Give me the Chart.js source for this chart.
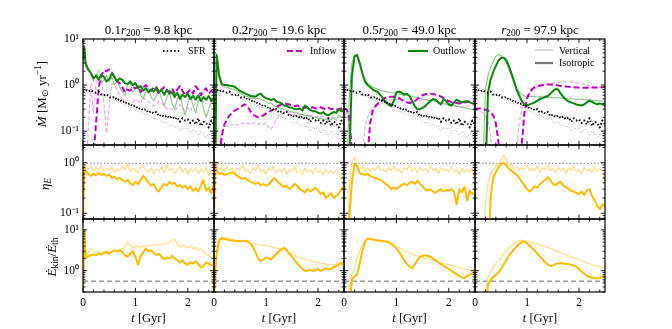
<!DOCTYPE html>
<html><head><meta charset="utf-8">
<script src="https://cdn.jsdelivr.net/npm/chart.js@4.4.1/dist/chart.umd.min.js"></script>
<style>
html,body{margin:0;padding:0;background:#fff;}
#wrap{position:relative;width:672px;height:329px;overflow:hidden;background:#fff;font-family:'Liberation Serif',serif;color:#000;}
#wrap canvas{position:absolute;left:0;top:0;}
.lbl{position:absolute;transform:translate(-50%,-50%);white-space:nowrap;z-index:5;line-height:1;}
.rot{transform:translate(-50%,-50%) rotate(-90deg);}
sub{font-size:0.72em;vertical-align:-0.3em;line-height:0;}
sup{font-size:0.72em;vertical-align:0.45em;line-height:0;}
.leg{position:absolute;font-size:10px;white-space:nowrap;z-index:5;line-height:1;transform:translateY(-50%);}
.legs{position:absolute;z-index:5;}
</style></head>
<body>
<div id="wrap">
  <div class="lbl" style="left:148.5px;top:28.5px;font-size:13px">0.1<i>r</i><sub>200</sub> = 9.8 kpc</div>
  <div class="lbl" style="left:279px;top:28.5px;font-size:13px">0.2<i>r</i><sub>200</sub> = 19.6 kpc</div>
  <div class="lbl" style="left:409.5px;top:28.5px;font-size:13px">0.5<i>r</i><sub>200</sub> = 49.0 kpc</div>
  <div class="lbl" style="left:540px;top:28.5px;font-size:13px"><i>r</i><sub>200</sub> = 97.9 kpc</div>

  <div class="lbl rot" style="left:41px;top:94px;font-size:13px"><i>Ṁ</i> [M<sub>⊙</sub> yr<sup>−1</sup>]</div>
  <div class="lbl rot" style="left:44px;top:184px;font-size:13px"><i>η<sub>E</sub></i></div>
  <div class="lbl rot" style="left:51px;top:257px;font-size:13px"><i>Ė</i><sub>kin</sub>/<i>Ė</i><sub>th</sub></div>

  <div class="lbl" style="left:148.5px;top:318px;font-size:12.5px"><i>t</i> [Gyr]</div>
  <div class="lbl" style="left:279px;top:318px;font-size:12.5px"><i>t</i> [Gyr]</div>
  <div class="lbl" style="left:409.5px;top:318px;font-size:12.5px"><i>t</i> [Gyr]</div>
  <div class="lbl" style="left:540px;top:318px;font-size:12.5px"><i>t</i> [Gyr]</div>

  <svg class="legs" style="left:162px;top:47px" width="20" height="8"><line x1="1" y1="4" x2="19" y2="4" stroke="#000" stroke-width="2" stroke-dasharray="1.5 2.2"/></svg>
  <div class="leg" style="left:188px;top:51px">SFR</div>
  <svg class="legs" style="left:286px;top:47px" width="20" height="8"><line x1="1" y1="4" x2="19" y2="4" stroke="#c000c0" stroke-width="2" stroke-dasharray="6 3"/></svg>
  <div class="leg" style="left:310px;top:51px">Inflow</div>
  <svg class="legs" style="left:407px;top:47px" width="22" height="8"><line x1="1" y1="4" x2="21" y2="4" stroke="#0b850b" stroke-width="2"/></svg>
  <div class="leg" style="left:433px;top:51px">Outflow</div>
  <svg class="legs" style="left:534px;top:46px" width="20" height="8"><line x1="1" y1="4" x2="19" y2="4" stroke="#c4c4c4" stroke-width="1.3"/></svg>
  <div class="leg" style="left:559px;top:50.5px">Vertical</div>
  <svg class="legs" style="left:534px;top:58.5px" width="20" height="8"><line x1="1" y1="4" x2="19" y2="4" stroke="#7a7a7a" stroke-width="2.2"/></svg>
  <div class="leg" style="left:559px;top:63px">Isotropic</div>
</div>
<script>
// ---------- data ----------
const T = [0,0.025,0.05,0.1,0.15,0.2,0.25,0.3,0.35,0.4,0.45,0.5,0.55,0.6,0.65,0.7,0.75,0.8,0.85,0.9,0.95,1,1.05,1.1,1.15,1.2,1.25,1.3,1.35,1.4,1.45,1.5,1.55,1.6,1.65,1.7,1.75,1.8,1.85,1.9,1.95,2,2.05,2.1,2.15,2.2,2.25,2.3,2.35,2.4,2.45,2.5];
const T_REF = [0, 2.5];
const X_TICKS = [0, 1, 2];
const X_MINOR = [0.2,0.4,0.6,0.8,1.2,1.4,1.6,1.8,2.2,2.4];
const TITLES = ['0.1r200 = 9.8 kpc','0.2r200 = 19.6 kpc','0.5r200 = 49.0 kpc','r200 = 97.9 kpc'];
const LEGEND = ['SFR','Inflow','Outflow','Vertical','Isotropic'];

// star formation rate (same in every column)
const SFR_ISO = [0.75,0.8,0.8, 0.72,0.78,0.7,0.68,0.72,0.62,0.6,0.64,0.55,0.52,0.56,0.47,0.5,0.42,0.45,0.38,0.4,0.34,0.36, 0.3,0.32,0.28,0.3,0.25,0.27,0.24,0.26,0.21,0.23, 0.2,0.22,0.19,0.21,0.18,0.2,0.16,0.19,0.17,0.18, 0.15,0.17,0.14,0.19,0.13,0.16,0.15,0.12,0.17,0.14];
const SFR_VER = [0.8,0.85,0.85, 0.75,0.8,0.72,0.7,0.66,0.6,0.62,0.55,0.52,0.5,0.45,0.46,0.4,0.41,0.36,0.35,0.32,0.33,0.28, 0.27,0.26,0.24,0.22,0.23,0.2,0.19,0.18,0.19,0.16, 0.15,0.16,0.13,0.14,0.12,0.13,0.1,0.12,0.11,0.12, 0.09,0.11,0.1,0.08,0.1,0.09,0.07,0.09,0.08,0.07];

// outflow / inflow rates, isotropic (ISO) and vertical (VER)
const OUT_ISO_1 = [3.5,6.5,3.0, 2.2,1.8,1.4,1.6,1.3,1.7,1.5,1.2,1.35,1.8,1.5,1.2,1.4,1.3,1.1,1.05,1.2,1.0,1.1, 0.85,0.95,0.75,0.85,0.7,0.8,0.72,0.9,0.7,0.78, 0.62,0.8,0.65,0.7,0.55,0.68,0.5,0.62,0.55,0.65, 0.5,0.58,0.48,0.6,0.45,0.55,0.48,0.58,0.45,0.5];
const OUT_VER_1 = [3.0,5.5,2.5, 2.0,1.9,1.2,1.7,1.5,1.1,1.3,1.6,1.2,1.5,1.0,1.3,0.9,0.75,0.6,1.0,1.1,0.7,0.85, 0.95,0.6,0.5,0.75,0.85,0.55,0.45,0.6,0.8,0.5, 0.35,0.55,0.7,0.4,0.3,0.5,0.65,0.35,0.22,0.4, 0.6,0.35,0.25,0.45,0.55,0.3,0.2,0.3,0.45,0.4];
const IN_ISO_1 = [0.01,0.01,0.01, 0.01,0.01,0.03,0.15,0.9,1.6,2.1,2.0,2.2,1.9,1.5,1.2,1.1,0.9,0.7,0.8,0.75,0.9,0.85, 0.95,0.7,0.9,1.0,0.85,0.75,0.9,0.8,0.65,0.8, 0.9,0.75,0.7,0.85,0.65,0.8,0.95,0.75,0.6,0.7, 0.8,0.65,0.95,0.8,0.6,0.75,0.85,0.65,0.75,0.7];
const IN_VER_1 = [0.01,0.01,0.01, 0.1,1.1,0.25,1.2,2.1,1.4,0.4,0.09,0.35,1.1,1.0,0.8,0.6,0.5,0.45,0.38,0.35,0.42,0.5, 0.45,0.4,0.55,0.48,0.42,0.4,0.35,0.38,0.45,0.4, 0.35,0.3,0.32,0.3,0.28,0.32,0.38,0.3,0.28,0.32, 0.27,0.35,0.4,0.45,0.5,0.42,0.48,0.55,0.5,0.6];

const OUT_ISO_2 = [0.01,0.02,4.5, 1.6,1.05,1.0,1.0,0.97,0.95,0.92,0.82,0.75,0.7,0.65,0.62,0.58,0.57,0.56,0.62,0.65,0.56,0.52, 0.5,0.47,0.5,0.44,0.42,0.4,0.36,0.35,0.33,0.32, 0.3,0.3,0.31,0.28,0.36,0.32,0.29,0.27,0.27,0.25, 0.24,0.26,0.23,0.22,0.24,0.26,0.25,0.3,0.27,0.27];
const OUT_VER_2 = [0.01,0.02,4.0, 1.4,0.95,0.9,0.9,0.85,0.82,0.8,0.72,0.68,0.62,0.58,0.56,0.52,0.52,0.5,0.52,0.5,0.46,0.44, 0.4,0.4,0.36,0.34,0.32,0.31,0.29,0.28,0.27,0.26, 0.25,0.25,0.23,0.23,0.22,0.22,0.21,0.2,0.2,0.19, 0.19,0.18,0.18,0.17,0.18,0.2,0.17,0.22,0.2,0.21];
const IN_ISO_2 = [0.01,0.01,0.01, 0.02,0.08,0.14,0.18,0.22,0.25,0.28,0.3,0.33,0.36,0.38,0.34,0.27,0.23,0.21,0.2,0.21,0.22,0.24, 0.26,0.28,0.3,0.33,0.36,0.38,0.4,0.39,0.38,0.36, 0.35,0.36,0.34,0.33,0.32,0.33,0.32,0.33,0.31,0.32, 0.33,0.31,0.3,0.32,0.3,0.31,0.29,0.3,0.31,0.3];
const IN_VER_2 = [0.01,0.01,0.01, 0.04,0.1,0.12,0.13,0.13,0.14,0.13,0.14,0.14,0.15,0.14,0.15,0.14,0.15,0.15,0.14,0.15,0.14,0.15, 0.12,0.11,0.14,0.18,0.21,0.23,0.25,0.26,0.25,0.24, 0.23,0.24,0.22,0.23,0.22,0.21,0.22,0.21,0.2,0.21, 0.2,0.21,0.2,0.19,0.2,0.2,0.19,0.2,0.21,0.2];

const OUT_ISO_3 = [0.01,0.01,0.01, 0.02,1.5,4.2,4.5,3.0,1.8,1.2,1.0,0.9,0.8,0.75,0.7,0.6,0.5,0.42,0.38,0.35,0.45,0.7, 0.72,0.68,0.62,0.65,0.58,0.45,0.35,0.3,0.3,0.32, 0.35,0.4,0.45,0.5,0.48,0.42,0.38,0.5,0.45,0.38, 0.36,0.42,0.48,0.45,0.42,0.44,0.45,0.42,0.4,0.38];
const OUT_VER_3 = [0.01,0.01,0.01, 0.5,3.0,4.3,4.0,2.7,1.7,1.3,1.1,1.0,0.9,0.85,0.8,0.76,0.74,0.72,0.7,0.68,0.67,0.65, 0.64,0.62,0.6,0.6,0.58,0.56,0.55,0.53,0.52,0.5, 0.49,0.47,0.46,0.45,0.44,0.43,0.42,0.41,0.39,0.38, 0.37,0.36,0.35,0.34,0.33,0.32,0.31,0.3,0.29,0.28];
const IN_ISO_3 = [0.3,0.3,0.3, 0.2,0.04,0.01,0.01,0.01,0.01,0.01,0.03,0.15,0.28,0.35,0.4,0.45,0.5,0.53,0.55,0.56,0.56,0.55, 0.52,0.48,0.45,0.42,0.41,0.42,0.45,0.5,0.55,0.6, 0.63,0.65,0.65,0.64,0.62,0.6,0.56,0.52,0.48,0.45, 0.43,0.42,0.41,0.4,0.41,0.42,0.43,0.44,0.44,0.45];
const IN_VER_3 = [0.25,0.25,0.25, 0.15,0.02,0.01,0.01,0.01,0.03,0.12,0.2,0.26,0.3,0.33,0.36,0.39,0.42,0.45,0.47,0.48,0.49,0.49, 0.48,0.47,0.46,0.45,0.44,0.44,0.45,0.46,0.47,0.48, 0.49,0.49,0.48,0.47,0.45,0.43,0.41,0.39,0.37,0.36, 0.35,0.35,0.34,0.34,0.34,0.35,0.35,0.36,0.36,0.37];

const OUT_ISO_4 = [0.01,0.01,0.01, 0.01,0.01,0.01,0.7,1.3,1.9,2.6,3.4,3.9,3.9,3.5,2.6,1.8,1.2,0.8,0.6,0.45,0.38,0.36, 0.38,0.4,0.42,0.46,0.5,0.52,0.55,0.58,0.65,0.75, 0.82,0.8,0.65,0.55,0.48,0.44,0.42,0.4,0.38,0.37, 0.36,0.38,0.42,0.46,0.43,0.4,0.38,0.4,0.38,0.36];
const OUT_VER_4 = [0.01,0.01,0.01, 0.01,0.01,0.8,1.6,2.4,3.3,4.2,4.6,4.4,3.8,3.0,2.2,1.6,1.15,0.85,0.7,0.62,0.58,0.57, 0.56,0.57,0.56,0.55,0.56,0.55,0.54,0.55,0.54,0.53, 0.54,0.53,0.52,0.52,0.51,0.5,0.51,0.5,0.49,0.5, 0.49,0.48,0.48,0.47,0.47,0.46,0.46,0.45,0.45,0.44];
const IN_ISO_4 = [0.3,0.3,0.31, 0.31,0.3,0.29,0.28,0.26,0.22,0.15,0.06,0.01,0.01,0.01,0.01,0.01,0.01,0.01,0.01,0.05,0.25,0.5, 0.7,0.82,0.9,0.95,0.98,1.0,1.02,1.03,1.03,1.02, 1.0,0.98,0.96,0.95,0.93,0.92,0.91,0.9,0.89,0.88, 0.88,0.87,0.87,0.87,0.88,0.88,0.89,0.9,0.9,0.91];
const IN_VER_4 = [0.28,0.28,0.28, 0.27,0.25,0.22,0.17,0.08,0.02,0.01,0.01,0.01,0.01,0.01,0.01,0.01,0.01,0.04,0.15,0.3,0.45,0.58, 0.68,0.76,0.82,0.87,0.92,0.96,1.0,1.04,1.07,1.1, 1.12,1.14,1.15,1.16,1.17,1.17,1.16,1.15,1.13,1.1, 1.07,1.03,1.0,0.97,0.94,0.92,0.9,0.89,0.88,0.88];

// energy loading factor eta_E
const ETA_REF = 0.97;
const ETA_ISO_1 = [0.08,0.8,0.7, 0.6,0.55,0.6,0.57,0.62,0.58,0.6,0.55,0.58,0.5,0.53,0.47,0.5,0.45,0.42,0.46,0.4,0.36,0.42, 0.38,0.45,0.55,0.48,0.4,0.35,0.38,0.3,0.27,0.33, 0.38,0.35,0.42,0.38,0.4,0.34,0.36,0.32,0.35,0.3, 0.34,0.28,0.31,0.27,0.35,0.45,0.28,0.32,0.25,0.38];
const ETA_VER_1 = [0.1,1.0,0.9, 0.75,0.85,0.7,0.8,0.72,0.85,0.68,0.78,0.7,0.82,0.65,0.75,0.7,0.85,0.72,0.95,0.68,0.8,0.7, 0.62,0.8,0.88,0.7,0.65,0.78,0.6,0.75,0.68,0.82, 0.62,0.9,0.7,0.78,0.6,0.72,0.85,0.65,0.78,0.6, 0.75,0.68,0.82,0.6,0.75,0.65,0.8,0.55,0.7,0.62];
const ETA_ISO_2 = [0.08,0.9,0.7, 0.6,0.62,0.58,0.6,0.62,0.65,0.6,0.55,0.5,0.48,0.5,0.45,0.42,0.4,0.38,0.4,0.36,0.38,0.35, 0.37,0.42,0.5,0.45,0.4,0.36,0.33,0.35,0.3,0.33, 0.38,0.35,0.3,0.28,0.26,0.3,0.27,0.29,0.32,0.28, 0.24,0.26,0.2,0.22,0.25,0.2,0.22,0.24,0.3,0.35];
const ETA_VER_2 = [0.1,1.1,0.95, 0.72,0.8,0.68,0.85,0.7,0.78,0.65,0.8,0.72,0.9,0.68,0.75,0.62,0.8,0.7,0.88,0.66,0.74,0.6, 0.78,0.7,0.85,0.62,0.74,0.66,0.8,0.6,0.72,0.68, 0.85,0.62,0.7,0.58,0.78,0.66,0.72,0.6,0.8,0.65, 0.7,0.58,0.75,0.62,0.7,0.6,0.72,0.65,0.45,0.6];
const ETA_ISO_3 = [0.01,0.01,0.01, 0.08,0.4,0.95,0.85,0.62,0.6,0.58,0.6,0.55,0.52,0.5,0.48,0.45,0.42,0.38,0.35,0.3,0.32,0.3, 0.33,0.36,0.38,0.36,0.4,0.42,0.38,0.44,0.38,0.34, 0.3,0.28,0.3,0.27,0.25,0.28,0.3,0.27,0.29,0.28, 0.3,0.27,0.15,0.3,0.26,0.33,0.18,0.28,0.24,0.26];
const ETA_VER_3 = [0.01,0.01,0.01, 0.3,1.0,1.3,0.9,0.75,0.85,0.7,0.8,0.68,0.78,0.72,0.88,0.7,0.76,0.65,0.8,0.7,0.85,0.68, 0.75,0.62,0.8,0.72,0.9,0.68,0.78,0.64,0.82,0.7, 0.76,0.65,0.85,0.7,0.78,0.62,0.8,0.7,0.75,0.66, 0.82,0.68,0.72,0.6,0.78,0.66,0.74,0.64,0.8,0.4];
const ETA_ISO_4 = [0.01,0.01,0.01, 0.01,0.01,0.01,0.01,0.2,0.5,0.65,0.8,0.95,1.0,0.9,0.75,0.7,0.62,0.58,0.5,0.42,0.36,0.3, 0.27,0.3,0.34,0.32,0.38,0.42,0.45,0.52,0.45,0.38, 0.36,0.4,0.42,0.35,0.33,0.3,0.28,0.27,0.25,0.24, 0.27,0.23,0.28,0.3,0.22,0.18,0.14,0.12,0.15,0.14];
const ETA_VER_4 = [0.01,0.01,0.01, 0.01,0.01,0.15,0.4,0.6,0.75,0.85,0.95,1.1,1.4,1.2,0.85,0.95,0.75,0.85,0.7,0.8,0.72,0.9, 0.68,0.78,0.7,0.85,0.65,0.8,0.72,0.9,0.7,0.76, 0.65,0.82,0.7,0.78,0.62,0.8,0.7,0.85,0.66,0.74, 0.6,0.8,0.7,0.76,0.64,0.82,0.68,0.75,0.7,0.4];

// kinetic to thermal energy flux ratio
const RATIO_REF = 0.55;
const R_ISO_1 = [0.35,10,2.0, 2.3,2.4,2.5,2.4,2.6,2.5,2.7,2.8,2.6,2.9,3.1,3.0,3.2,2.9,2.4,2.2,2.6,3.0,2.2, 1.4,2.3,2.8,3.5,3.0,3.2,2.7,2.4,2.6,2.2, 1.9,2.1,2.0,2.3,2.0,1.8,1.6,1.8,1.5,1.4, 1.6,1.5,1.7,1.45,1.2,1.3,1.6,1.5,1.35,1.45];
const R_VER_1 = [0.35,8.0,2.4, 2.8,3.5,3.0,2.8,3.0,2.7,2.9,3.1,2.8,3.0,3.2,2.9,3.0,3.3,3.8,5.0,4.2,3.6,3.8, 4.0,3.7,4.1,3.9,4.3,4.0,4.4,4.2,4.5,4.3, 4.8,4.6,5.0,5.5,6.0,4.5,3.8,4.2,3.9,3.6, 3.9,3.5,3.7,3.2,3.4,3.0,2.6,2.4,2.1,2.0];
const R_ISO_2 = [0.2,1.0,2.5, 5.5,6.2,6.0,5.8,5.6,5.5,5.4,5.3,5.4,5.3,5.4,5.2,4.6,3.8,2.8,2.0,1.7,1.9,2.1, 2.0,1.9,2.2,2.6,3.0,3.4,3.6,3.2,2.6,2.2, 1.8,1.5,1.3,1.1,0.98,1.0,1.05,0.98,1.02,1.1, 1.0,1.05,1.15,1.08,1.1,1.2,1.3,1.4,1.55,1.4];
const R_VER_2 = [0.2,1.2,3.0, 6.0,6.8,6.5,6.2,6.0,5.8,5.6,5.5,5.4,5.3,5.2,5.0,4.9,4.7,4.6,4.4,4.3,4.2,4.1, 4.0,3.9,3.7,3.6,3.5,3.3,3.1,2.9,2.8,2.6, 2.4,2.2,2.1,2.0,1.9,1.8,1.75,1.7,1.65,1.6, 1.55,1.5,1.45,1.42,1.4,1.38,1.45,1.6,1.5,1.3];
const R_ISO_3 = [0.01,0.01,0.01, 0.1,0.6,0.72,0.8,1.5,3.0,5.0,6.2,6.0,5.8,5.6,5.5,5.4,5.3,5.2,5.0,4.6,4.0,3.5, 2.9,2.3,1.8,1.45,1.25,1.15,1.4,1.8,2.2,2.3, 2.4,2.3,2.2,2.0,1.8,1.6,1.45,1.3,1.2,1.1, 1.0,0.9,0.82,0.75,0.68,0.65,0.75,0.8,0.85,0.95];
const R_VER_3 = [0.01,0.01,0.01, 0.4,0.8,1.2,2.0,3.0,4.2,5.5,6.0,5.9,5.8,5.7,5.6,5.4,5.3,5.1,4.9,4.6,4.3,4.0, 3.7,3.4,3.1,2.9,2.7,2.5,2.4,2.3,2.2,2.1, 2.0,1.95,1.85,1.8,1.7,1.65,1.55,1.5,1.45,1.4, 1.35,1.3,1.25,1.2,1.15,1.1,1.05,1.0,0.98,1.0];
const R_ISO_4 = [0.01,0.01,0.01, 0.01,0.01,0.1,0.45,0.6,0.7,0.78,0.9,1.1,1.4,1.8,2.3,2.8,3.3,3.9,4.5,5.0,5.2,4.7, 4.1,3.6,3.1,2.6,2.2,1.9,1.6,1.4,1.3,1.35, 1.45,1.5,1.52,1.5,1.45,1.45,1.4,1.35,1.25,1.1, 0.95,0.85,0.75,0.7,0.68,0.66,0.65,0.66,0.7,0.75];
const R_VER_4 = [0.01,0.01,0.01, 0.01,0.01,0.3,0.7,0.9,1.2,1.5,1.8,2.1,2.6,3.1,3.6,4.1,4.6,5.0,5.4,5.6,5.5,5.3, 5.1,4.9,4.7,4.5,4.3,4.1,3.9,3.7,3.5,3.3, 3.1,2.9,2.75,2.6,2.45,2.3,2.2,2.05,1.95,1.85, 1.75,1.65,1.55,1.48,1.4,1.35,1.3,1.25,1.2,1.18];

// ---------- layout & style ----------
const W = 672, H = 329;
const COL_X = [83, 214, 344, 475, 605];
const ROW_Y = [39, 145, 219, 292];
const YAXIS_W = 40, XAXIS_H = 22;
const Y_RANGES = [[0.05, 10], [0.077, 2.24], [0.307, 18.5]];
const Y_LABELED = [[10, 1, 0.1], [1, 0.1], [10, 1]];
const C = {
  green: '#0b850b', greenL: '#8cc68c',
  mag: '#c000c0', magL: '#e9a3e9',
  orange: '#ffbb00', orangeL: '#ffda80',
  black: '#000000', gray: '#a6a6a6', ref: '#9a9a9a'
};
const SUP = {'1':'\u00b9','0':'\u2070','-1':'\u207b\u00b9','-2':'\u207b\u00b2'};

Chart.defaults.font.family = "'Liberation Serif', serif";
Chart.defaults.color = '#000';

const pts = (xs, ys) => xs.map((t, i) => ({x: t, y: ys[i]}));
const line = (ys, color, width, dash, xs) => ({
  data: pts(xs || T, ys), borderColor: color, borderWidth: width, borderDash: dash || [],
  pointRadius: 0, tension: 0, fill: false, clip: 0, borderJoinStyle: 'round', borderCapStyle: 'butt'
});

const frameTicks = {
  id: 'frameTicks',
  afterDraw(chart) {
    const {ctx, chartArea: a, scales: {x, y}} = chart;
    ctx.save();
    ctx.strokeStyle = '#000';
    ctx.lineWidth = 0.9;
    ctx.beginPath();
    const vt = (v, len) => { const p = x.getPixelForValue(v); ctx.moveTo(p, a.top); ctx.lineTo(p, a.top + len); ctx.moveTo(p, a.bottom); ctx.lineTo(p, a.bottom - len); };
    const ht = (v, len) => { const p = y.getPixelForValue(v); ctx.moveTo(a.left, p); ctx.lineTo(a.left + len, p); ctx.moveTo(a.right, p); ctx.lineTo(a.right - len, p); };
    X_MINOR.forEach(v => vt(v, 2.4));
    X_TICKS.forEach(v => vt(v, 4.2));
    for (let e = -2; e <= 2; e++) {
      for (let m = 1; m <= 9; m++) {
        const v = m * Math.pow(10, e);
        if (v > y.min && v < y.max) ht(v, m === 1 ? 4.2 : 2.4);
      }
    }
    ctx.stroke();
    ctx.lineWidth = 1.2;
    ctx.strokeRect(a.left, a.top, a.right - a.left, a.bottom - a.top);
    ctx.restore();
  }
};

function datasetsFor(row, col) {
  if (row === 0) {
    const S = [
      [OUT_ISO_1, OUT_VER_1, IN_ISO_1, IN_VER_1],
      [OUT_ISO_2, OUT_VER_2, IN_ISO_2, IN_VER_2],
      [OUT_ISO_3, OUT_VER_3, IN_ISO_3, IN_VER_3],
      [OUT_ISO_4, OUT_VER_4, IN_ISO_4, IN_VER_4]
    ][col];
    return [
      line(SFR_ISO, C.black, 2, [1.4, 2.2]),
      line(SFR_VER, C.gray, 1, [1, 1.8]),
      line(S[0], C.green, 2),
      line(S[2], C.mag, 2, [6, 3]),
      line(S[1], C.greenL, 1.1),
      line(S[3], C.magL, 1.1, [4, 2])
    ];
  }
  if (row === 1) {
    const S = [[ETA_ISO_1, ETA_VER_1], [ETA_ISO_2, ETA_VER_2], [ETA_ISO_3, ETA_VER_3], [ETA_ISO_4, ETA_VER_4]][col];
    return [
      line(S[0], C.orange, 2),
      line(S[1], C.orangeL, 1.1),
      line([ETA_REF, ETA_REF], C.ref, 1.2, [1.5, 2], T_REF)
    ];
  }
  const S = [[R_ISO_1, R_VER_1], [R_ISO_2, R_VER_2], [R_ISO_3, R_VER_3], [R_ISO_4, R_VER_4]][col];
  return [
    line(S[0], C.orange, 2),
    line(S[1], C.orangeL, 1.1),
    line([RATIO_REF, RATIO_REF], C.ref, 1.5, [5, 3], T_REF)
  ];
}

const wrap = document.getElementById('wrap');
for (let row = 0; row < 3; row++) {
  for (let col = 0; col < 4; col++) {
    const cv = document.createElement('canvas');
    cv.width = W; cv.height = H;
    cv.style.width = W + 'px'; cv.style.height = H + 'px';
    wrap.insertBefore(cv, wrap.firstChild);
    const showY = col === 0, showX = row === 2;
    const pad = {
      left: showY ? COL_X[col] - YAXIS_W : COL_X[col],
      right: W - COL_X[col + 1],
      top: ROW_Y[row],
      bottom: showX ? H - ROW_Y[row + 1] - XAXIS_H : H - ROW_Y[row + 1]
    };
    new Chart(cv, {
      type: 'line',
      data: {datasets: datasetsFor(row, col)},
      options: {
        responsive: false, animation: false, events: [],
        layout: {padding: pad},
        plugins: {legend: {display: false}, tooltip: {enabled: false}},
        scales: {
          x: {
            type: 'linear', min: 0, max: 2.5, display: showX,
            grid: {display: false, drawTicks: false, tickLength: 0}, border: {display: false},
            ticks: {font: {size: 11.5}, padding: 4, maxRotation: 0, autoSkip: false, callback: v => String(v)},
            afterBuildTicks: s => { s.ticks = X_TICKS.map(v => ({value: v})); },
            afterFit: s => { s.height = showX ? XAXIS_H : 0; }
          },
          y: {
            type: 'logarithmic', min: Y_RANGES[row][0], max: Y_RANGES[row][1], display: showY,
            grid: {display: false, drawTicks: false, tickLength: 0}, border: {display: false},
            ticks: {font: {size: 11.5}, padding: 4, autoSkip: false,
              callback: v => '10' + SUP[String(Math.round(Math.log10(v)))]},
            afterBuildTicks: s => { s.ticks = Y_LABELED[row].map(v => ({value: v})); },
            afterFit: s => { s.width = showY ? YAXIS_W : 0; }
          }
        }
      },
      plugins: [frameTicks]
    });
  }
}
</script>
</body></html>
